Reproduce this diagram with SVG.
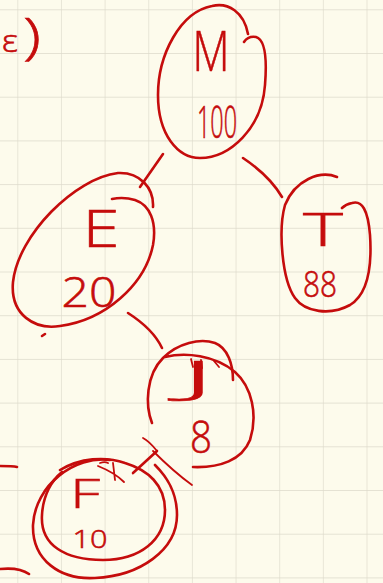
<svg xmlns="http://www.w3.org/2000/svg" width="383" height="583" viewBox="0 0 383 583">
  <defs>
    <pattern id="grid" x="17.3" y="9.3" width="43.65" height="43.7" patternUnits="userSpaceOnUse">
      <path d="M0 0 H43.65 M0 0 V43.7" fill="none" stroke="#dddacb" stroke-width="1.3"/>
    </pattern>
    <style>
      .ink { fill: none; stroke: #c50c0c; stroke-width: 2.6; stroke-linecap: round; stroke-linejoin: round; }
      .thin { stroke-width: 1.8; }
      .lbl { fill: #c50c0c; stroke: #c50c0c; stroke-width: 0.6; font-family: "Open Sans", "Liberation Sans", sans-serif; font-weight: 300; text-anchor: middle; }
    </style>
  </defs>

  <!-- paper -->
  <rect width="383" height="583" fill="#fdfbec"/>
  <rect width="383" height="583" fill="url(#grid)"/>

  <!-- stray marks at the page edge -->
  <g id="margin">
    <text class="lbl" x="10" y="52" font-size="32" textLength="16" lengthAdjust="spacingAndGlyphs">ε</text>
    <text class="lbl" x="32" y="54" font-size="50" textLength="18" lengthAdjust="spacingAndGlyphs">)</text>
    <path class="ink" d="M0 466 C6 466, 13 466, 17 467"/>
    <path class="ink" d="M0 569 C10 568, 22 569, 29 574"/>
    <path class="ink" d="M42 336 L45 334"/>
  </g>

  <!-- connectors -->
  <g id="edges">
    <path class="ink" d="M163 154 L140 187"/>
    <path class="ink" d="M243 158 C258 168, 272 180, 282 197"/>
    <path class="ink" d="M128 313 C142 322, 155 333, 162 348"/>
    <path class="ink" d="M133 473 L157 451" stroke-width="5.5"/>
    <path class="ink thin" d="M143 438 C149 441, 153 446, 157 451"/>
    <path class="ink thin" d="M153 451 C165 463, 178 475, 192 485"/>
  </g>

  <g id="node-M">
    <path class="ink" d="M248 34 C244 12, 228 2, 212 6 C180 12, 158 55, 158 95 C158 135, 178 158, 200 158 C230 158, 262 128, 265 85 C267 60, 266 40, 256 37 C250 36, 246 39, 244 42"/>
    <text class="lbl" x="211" y="71" font-size="56" textLength="37" lengthAdjust="spacingAndGlyphs">M</text>
    <text class="lbl" x="217" y="138" font-size="44" textLength="40" lengthAdjust="spacingAndGlyphs">100</text>
  </g>

  <g id="node-E">
    <path class="ink" d="M153 207 C154 188, 140 172, 118 173 C75 178, 18 235, 13 282 C10 315, 35 330, 60 326 C105 320, 145 285, 153 245 C157 222, 150 205, 135 200 C125 197, 117 198, 112 199"/>
    <text class="lbl" x="101" y="247" font-size="52" textLength="37" lengthAdjust="spacingAndGlyphs">E</text>
    <text class="lbl" x="89" y="307" font-size="42" textLength="55" lengthAdjust="spacingAndGlyphs">20</text>
  </g>

  <g id="node-T">
    <path class="ink" d="M337 177 C320 170, 295 180, 285 205 C278 230, 282 280, 295 298 C305 312, 330 316, 350 305 C368 294, 372 265, 370 235 C368 210, 362 200, 352 203 C347 204, 344 206, 342 208"/>
    <text class="lbl" x="323" y="246" font-size="46" textLength="40" lengthAdjust="spacingAndGlyphs">T</text>
    <text class="lbl" x="320" y="297" font-size="36" textLength="34" lengthAdjust="spacingAndGlyphs">88</text>
  </g>

  <g id="node-J">
    <path class="ink" d="M152 423 C145 405, 146 375, 163 358 C178 343, 200 338, 215 343 C228 348, 233 365, 233 380"/>
    <path class="ink" d="M165 357 C185 352, 215 355, 235 372 C252 387, 258 415, 250 440 C242 460, 220 468, 193 467"/>
    <path class="ink thin" d="M191 359 L193 367 M201 360 L202 368 M214 361 L219 367"/>
    <text class="lbl" x="198" y="393" font-size="44" textLength="34" lengthAdjust="spacingAndGlyphs">J</text>
    <text class="lbl" x="201" y="453" font-size="44" textLength="22" lengthAdjust="spacingAndGlyphs">8</text>
  </g>

  <g id="node-F">
    <path class="ink" d="M60 470 C80 458, 105 456, 125 463 C148 470, 165 485, 165 510 C165 540, 140 560, 103 560 C65 560, 40 545, 42 515 C43 495, 52 480, 62 472"/>
    <path class="ink" d="M110 460 C75 455, 35 485, 33 525 C32 560, 60 580, 95 578 C140 576, 177 550, 177 515 C177 490, 165 475, 155 465"/>
    <path class="ink thin" d="M98 466 C108 470, 116 474, 124 482 M100 463 C103 462, 106 462, 108 463 M113 463 L115 480"/>
    <text class="lbl" x="85" y="508" font-size="40" textLength="30" lengthAdjust="spacingAndGlyphs">F</text>
    <text class="lbl" x="90" y="548" font-size="26" textLength="35" lengthAdjust="spacingAndGlyphs">10</text>
  </g>
</svg>
